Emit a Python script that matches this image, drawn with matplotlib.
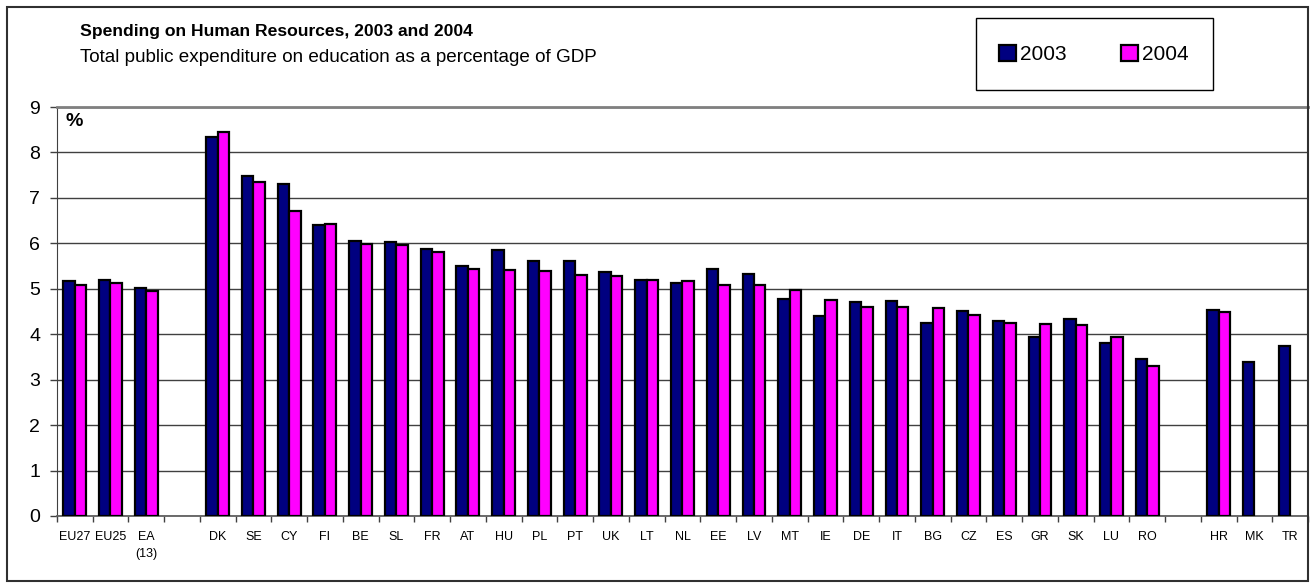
import matplotlib.pyplot as plt
import numpy as np
from matplotlib.patches import Rectangle

plt.rcParams["font.family"] = ["Liberation Sans", "DejaVu Sans"]

# Categories (empty strings are the gaps between groups)
labels = ["EU27", "EU25", "EA\n(13)", "",
          "DK", "SE", "CY", "FI", "BE", "SL", "FR", "AT", "HU", "PL", "PT",
          "UK", "LT", "NL", "EE", "LV", "MT", "IE", "DE", "IT", "BG", "CZ",
          "ES", "GR", "SK", "LU", "RO", "",
          "HR", "MK", "TR"]

# Expenditure on education, % of GDP (nan = no bar)
y2003 = [5.17, 5.20, 5.02, np.nan,
         8.33, 7.48, 7.31, 6.41, 6.05, 6.02, 5.88, 5.50, 5.85, 5.62, 5.61,
         5.38, 5.19, 5.13, 5.43, 5.33, 4.78, 4.41, 4.72, 4.74, 4.25, 4.51,
         4.29, 3.95, 4.34, 3.80, 3.45, np.nan,
         4.53, 3.39, 3.74]
y2004 = [5.08, 5.12, 4.96, np.nan,
         8.46, 7.35, 6.71, 6.43, 5.99, 5.96, 5.81, 5.44, 5.42, 5.40, 5.31,
         5.29, 5.20, 5.18, 5.08, 5.08, 4.98, 4.75, 4.60, 4.59, 4.57, 4.42,
         4.25, 4.22, 4.21, 3.93, 3.29, np.nan,
         4.50, np.nan, np.nan]

navy = "#000080"
magenta = "#FF00FF"

fig = plt.figure(figsize=(13.11, 5.85), dpi=100)
ax = fig.add_axes([0.0433, 0.118, 0.9545, 0.699])

x = np.arange(len(labels))
w = 0.32
b1 = ax.bar(x - w / 2, y2003, w, color=navy, edgecolor="black", linewidth=1.6,
            label="2003", zorder=3)
b2 = ax.bar(x + w / 2, y2004, w, color=magenta, edgecolor="black", linewidth=1.6,
            label="2004", zorder=3)

ax.set_xlim(-0.5, len(labels) - 0.5)
ax.set_ylim(0, 9)
ax.set_yticks(range(0, 10))
ax.tick_params(axis="y", labelsize=14, length=5, width=1, direction="out",
               color="#404040", pad=7)

ax.set_xticks(x)
ax.set_xticklabels(labels, fontsize=9, linespacing=1.5)
ax.set_xticks(np.arange(-0.5, len(labels), 1), minor=True)
ax.tick_params(axis="x", which="major", length=0, pad=11)
ax.tick_params(axis="x", which="minor", length=4, width=1, color="#404040")

ax.grid(axis="y", color="#404040", linewidth=1, zorder=0)
ax.set_axisbelow(True)
ax.spines["top"].set_color("#808080")
ax.spines["top"].set_linewidth(2)
ax.spines["right"].set_visible(False)
ax.spines["left"].set_color("#404040")
ax.spines["bottom"].set_color("#606060")
ax.spines["bottom"].set_linewidth(1.3)

ax.text(0.007, 0.965, "%", transform=ax.transAxes, fontsize=14,
        fontweight="bold", va="center", ha="left")

# titles
fig.text(0.061, 0.947, "Spending on Human Resources, 2003 and 2004",
         fontsize=12.6, fontweight="bold", va="center")
fig.text(0.061, 0.901, "Total public expenditure on education as a percentage of GDP",
         fontsize=13.6, va="center")

# legend box
fig.patches.append(Rectangle((0.7445, 0.846), 0.1805, 0.123, transform=fig.transFigure,
                             facecolor="white", edgecolor="black", linewidth=1))
fig.legend(handles=[b1, b2], loc="center", bbox_to_anchor=(0.8345, 0.907),
           ncol=2, frameon=False, fontsize=15, handlelength=0.8, handleheight=0.8,
           handletextpad=0.2, columnspacing=2.6)

# outer frame
fig.patches.append(Rectangle((0.0055, 0.006), 0.992, 0.982, transform=fig.transFigure,
                             fill=False, edgecolor="#303030", linewidth=1.5))

fig.savefig("out.png", dpi=100)
